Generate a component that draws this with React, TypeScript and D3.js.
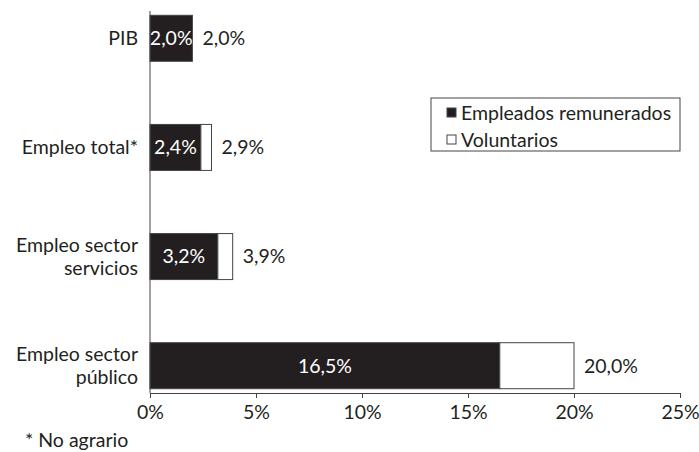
import React, { useEffect, useRef } from 'react'
import * as d3 from 'd3'

const categories = ['PIB', 'Empleo total*', 'Empleo sector servicios', 'Empleo sector público']
const labelLines = [['PIB'], ['Empleo total*'], ['Empleo sector', 'servicios'], ['Empleo sector', 'público']]
const paid = [2.0, 2.4, 3.2, 16.5]
const volunteers = [0, 0.5, 0.7, 3.5]
const totals = [2.0, 2.9, 3.9, 20.0]
const xTicks = [0, 5, 10, 15, 20, 25]
const seriesNames = ['Empleados remunerados', 'Voluntarios']

const FONT = 'Lato, "Open Sans", sans-serif'
const FS = 19.5
const INK = '#231f20'

export default function App() {
  const ref = useRef<SVGSVGElement>(null)

  useEffect(() => {
    const svg = d3.select(ref.current)
    svg.selectAll('*').remove()

    const x = d3.scaleLinear().domain([0, 25]).range([150, 680])
    const y = d3.scalePoint().domain(categories).range([11, 393]).padding(0.25)
    const barH = 46
    const fmt = (v: number) => d3.format('.1f')(v).replace('.', ',') + '%'

    const rows = categories.map((c, i) => ({ cat: c, paid: paid[i], vol: volunteers[i] }))
    const stacked = d3.stack<any>().keys(['paid', 'vol'])(rows)
    const fills = [INK, '#fff']

    svg.append('g')
      .selectAll('g')
      .data(stacked)
      .enter()
      .append('g')
        .attr('fill', (d, i) => fills[i])
      .selectAll('rect')
      .data(d => d.filter(s => s[1] - s[0] > 0))
      .enter()
      .append('rect')
        .attr('x', d => x(d[0]))
        .attr('y', d => (y(d.data.cat) as number) - barH / 2)
        .attr('width', d => x(d[1]) - x(d[0]))
        .attr('height', barH)
        .attr('stroke', '#444')
        .attr('stroke-width', 1)

    // values inside black segment
    svg.append('g')
      .selectAll('text')
      .data(rows)
      .enter()
      .append('text')
        .attr('x', d => (x(0) + x(d.paid)) / 2)
        .attr('y', d => y(d.cat) as number)
        .attr('dy', '0.35em')
        .attr('text-anchor', 'middle')
        .attr('fill', '#fff')
        .style('font', `${FS}px ${FONT}`)
        .text(d => fmt(d.paid))

    // totals to the right
    svg.append('g')
      .selectAll('text')
      .data(categories)
      .enter()
      .append('text')
        .attr('x', (d, i) => x(totals[i]) + 10)
        .attr('y', d => y(d) as number)
        .attr('dy', '0.35em')
        .attr('fill', INK)
        .style('font', `${FS}px ${FONT}`)
        .text((d, i) => fmt(totals[i]))

    // category labels
    const lab = svg.append('g')
      .selectAll('text')
      .data(categories)
      .enter()
      .append('text')
        .attr('text-anchor', 'end')
        .attr('fill', INK)
        .style('font', `${FS}px ${FONT}`)
    lab.each(function (d, i) {
      const lines = labelLines[i]
      const cy = y(d) as number
      lines.forEach((l, j) => {
        d3.select(this).append('tspan')
          .attr('x', 138)
          .attr('y', cy + (j - (lines.length - 1) / 2) * 23)
          .attr('dy', '0.35em')
          .text(l)
      })
    })

    // y axis line
    svg.append('line')
      .attr('x1', x(0)).attr('x2', x(0))
      .attr('y1', 11).attr('y2', 393)
      .attr('stroke', '#444')

    const xAxis = svg.append('g')
      .attr('transform', 'translate(0,393)')
      .call(d3.axisBottom(x).tickValues(xTicks).tickFormat(d => d + '%').tickSize(5).tickSizeOuter(0).tickPadding(7))
    xAxis.select('.domain').attr('stroke', '#444')
    xAxis.selectAll('line').attr('stroke', '#444')
    xAxis.selectAll('text').attr('fill', INK).style('font', `${FS}px ${FONT}`)

    // legend
    const lg = svg.append('g').attr('transform', 'translate(431,98)')
    lg.append('rect')
      .attr('width', 249).attr('height', 53)
      .attr('fill', '#fff').attr('stroke', '#444')
    seriesNames.forEach((name, i) => {
      lg.append('rect')
        .attr('x', 16).attr('y', 10 + i * 27)
        .attr('width', 9).attr('height', 9)
        .attr('fill', fills[i]).attr('stroke', '#444')
      lg.append('text')
        .attr('x', 30).attr('y', 15 + i * 27)
        .attr('dy', '0.35em')
        .attr('fill', INK)
        .style('font', `${FS}px ${FONT}`)
        .text(name)
    })

    svg.append('text')
      .attr('x', 25).attr('y', 447)
      .attr('fill', INK)
      .style('font', `${FS}px ${FONT}`)
      .text('* No agrario')
  }, [])

  return (
    <svg ref={ref} width={699} height={452}
      style={{ position: 'absolute', left: 0, top: 0, background: '#fff' }} />
  )
}
